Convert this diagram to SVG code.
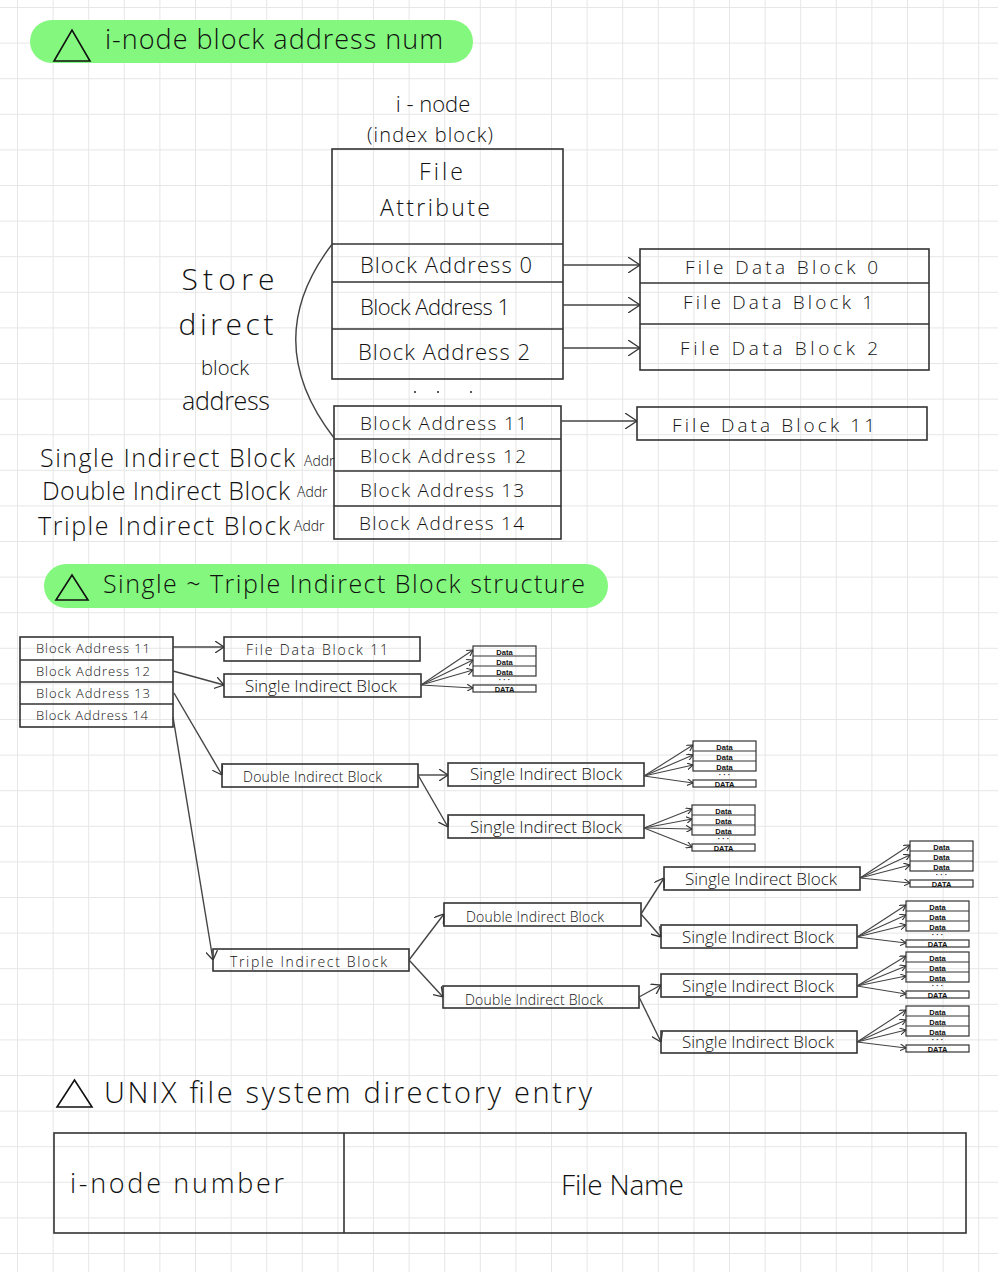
<svg xmlns="http://www.w3.org/2000/svg" width="998" height="1272" viewBox="0 0 998 1272">
<defs>
<pattern id="grid" x="17" y="7" width="35.6" height="35.6" patternUnits="userSpaceOnUse">
<path d="M0,0 H35.6 M0,0 V35.6" stroke="#e6e6e6" stroke-width="2" fill="none"/>
</pattern>
<marker id="chevL" markerWidth="12" markerHeight="16" refX="12" refY="8" orient="auto" markerUnits="userSpaceOnUse">
<path d="M0,0 L12,8 L0,16" fill="none" stroke="#333" stroke-width="1.3"/>
</marker>
<marker id="chevM" markerWidth="9" markerHeight="12" refX="9" refY="6" orient="auto" markerUnits="userSpaceOnUse">
<path d="M0,0 L9,6 L0,12" fill="none" stroke="#333" stroke-width="1.3"/>
</marker>
<marker id="chevS" markerWidth="6" markerHeight="7" refX="6" refY="3.5" orient="auto" markerUnits="userSpaceOnUse">
<path d="M0,0 L6,3.5 L0,7" fill="none" stroke="#333" stroke-width="1.1"/>
</marker>
<g id="datastack">
<rect x="0" y="0" width="63" height="30" class="mini"/>
<line x1="0" y1="10" x2="63" y2="10" class="mini"/>
<line x1="0" y1="20" x2="63" y2="20" class="mini"/>
<rect x="0" y="39" width="63" height="7" class="mini"/>
<text x="31.5" y="8.5" class="dt">Data</text>
<text x="31.5" y="18.5" class="dt">Data</text>
<text x="31.5" y="28.5" class="dt">Data</text>
<text x="31.5" y="36" class="dt">· · ·</text>
<text x="31.5" y="45.5" class="dt">DATA</text>
</g>
</defs>
<style>
.t{font-family:"Open Sans","Liberation Sans",sans-serif;font-weight:300;fill:#111}
.box{fill:none;stroke:#333;stroke-width:1.6}
.mini{fill:none;stroke:#333;stroke-width:1.2}
.dt{font-family:"Liberation Sans",sans-serif;font-size:7.5px;font-weight:bold;fill:#111;text-anchor:middle}
.c{fill:none;stroke:#444;stroke-width:1.4}
.cs{fill:none;stroke:#444;stroke-width:1.1}
.pill{fill:#84f87e}
.tri{fill:none;stroke:#111;stroke-width:1.6}
</style>
<rect x="0" y="0" width="998" height="1272" fill="#fff"/>
<rect x="0" y="0" width="998" height="1272" fill="url(#grid)"/>

<g id="header1">
<rect x="30" y="20" width="443" height="43" rx="21.5" class="pill"/>
<polygon points="54,61 90,61 72,30" class="tri"/>
<text x="105" y="49" class="t" font-size="27" textLength="338" lengthAdjust="spacing">i-node block address num</text>
</g>

<g id="inode-label">
<text x="433" y="112" class="t" font-size="22" text-anchor="middle">i - node</text>
<text x="430" y="142" class="t" font-size="20" text-anchor="middle" textLength="126" lengthAdjust="spacing">(index block)</text>
</g>

<g id="inode">
<rect x="332" y="149" width="231" height="230" class="box"/>
<line x1="332" y1="244" x2="563" y2="244" class="box"/>
<line x1="332" y1="282" x2="563" y2="282" class="box"/>
<line x1="332" y1="329" x2="563" y2="329" class="box"/>
<text x="441" y="180" class="t" font-size="23" text-anchor="middle" textLength="44" lengthAdjust="spacing">File</text>
<text x="435" y="216" class="t" font-size="23" text-anchor="middle" textLength="110" lengthAdjust="spacing">Attribute</text>
<text x="360" y="273" class="t" font-size="22" textLength="172" lengthAdjust="spacing">Block Address 0</text>
<text x="360" y="315" class="t" font-size="22" textLength="150" lengthAdjust="spacing">Block Address 1</text>
<text x="358" y="360" class="t" font-size="22" textLength="172" lengthAdjust="spacing">Block Address 2</text>
<circle cx="415" cy="392" r="1.1" fill="#333"/>
<circle cx="438" cy="392" r="1.1" fill="#333"/>
<circle cx="471" cy="392" r="1.1" fill="#333"/>
</g>

<g id="inode-indirect">
<rect x="334" y="406" width="227" height="133" class="box"/>
<line x1="334" y1="439" x2="561" y2="439" class="box"/>
<line x1="334" y1="471" x2="561" y2="471" class="box"/>
<line x1="334" y1="506" x2="561" y2="506" class="box"/>
<text x="360" y="430" class="t" font-size="19" textLength="167" lengthAdjust="spacing">Block Address 11</text>
<text x="360" y="463" class="t" font-size="19" textLength="166" lengthAdjust="spacing">Block Address 12</text>
<text x="360" y="497" class="t" font-size="19" textLength="164" lengthAdjust="spacing">Block Address 13</text>
<text x="359" y="530" class="t" font-size="19" textLength="165" lengthAdjust="spacing">Block Address 14</text>
</g>

<g id="file-data-blocks">
<rect x="640" y="249" width="289" height="121" class="box"/>
<line x1="640" y1="283" x2="929" y2="283" class="box"/>
<line x1="640" y1="324" x2="929" y2="324" class="box"/>
<text x="685" y="274" class="t" font-size="19" textLength="193" lengthAdjust="spacing">File Data Block 0</text>
<text x="683" y="309" class="t" font-size="19" textLength="190" lengthAdjust="spacing">File Data Block 1</text>
<text x="680" y="355" class="t" font-size="19" textLength="198" lengthAdjust="spacing">File Data Block 2</text>
</g>

<g id="file-data-block-11">
<rect x="637" y="407" width="290" height="33" class="box"/>
<text x="672" y="432" class="t" font-size="19" textLength="203" lengthAdjust="spacing">File Data Block 11</text>
</g>

<g id="left-labels">
<text x="228" y="290" class="t" font-size="30" text-anchor="middle" textLength="93" lengthAdjust="spacing">Store</text>
<text x="226" y="335" class="t" font-size="30" text-anchor="middle" textLength="95" lengthAdjust="spacing">direct</text>
<text x="225" y="375" class="t" font-size="21" text-anchor="middle" textLength="48" lengthAdjust="spacingAndGlyphs">block</text>
<text x="226" y="410" class="t" font-size="25" text-anchor="middle" textLength="88" lengthAdjust="spacing">address</text>
<text x="40" y="467" class="t" font-size="25" textLength="255" lengthAdjust="spacing">Single Indirect Block</text>
<text x="304" y="466" class="t" font-size="14">Addr</text>
<text x="42" y="500" class="t" font-size="25" textLength="248" lengthAdjust="spacing">Double Indirect Block</text>
<text x="297" y="497" class="t" font-size="14">Addr</text>
<text x="38" y="535" class="t" font-size="25" textLength="252" lengthAdjust="spacing">Triple Indirect Block</text>
<text x="294" y="531" class="t" font-size="14">Addr</text>
</g>

<g id="header2">
<rect x="44" y="564" width="564" height="44" rx="22" class="pill"/>
<polygon points="56,600 88,600 72,575" class="tri"/>
<text x="103" y="593" class="t" font-size="25" textLength="482" lengthAdjust="spacing">Single ~ Triple Indirect Block structure</text>
</g>

<g id="addr-table">
<rect x="20" y="637" width="153" height="90" class="box"/>
<line x1="20" y1="660" x2="173" y2="660" class="box"/>
<line x1="20" y1="682" x2="173" y2="682" class="box"/>
<line x1="20" y1="704" x2="173" y2="704" class="box"/>
<text x="36" y="653" class="t" font-size="13" textLength="114" lengthAdjust="spacing">Block Address 11</text>
<text x="36" y="676" class="t" font-size="13" textLength="114" lengthAdjust="spacing">Block Address 12</text>
<text x="36" y="698" class="t" font-size="13" textLength="114" lengthAdjust="spacing">Block Address 13</text>
<text x="36" y="720" class="t" font-size="13" textLength="112" lengthAdjust="spacing">Block Address 14</text>
</g>

<g id="fdb11-b">
<rect x="224" y="637" width="196" height="24" class="box"/>
<text x="246" y="655" class="t" font-size="14" textLength="142" lengthAdjust="spacing">File Data Block 11</text>
</g>
<g id="sib-a">
<rect x="224" y="674" width="197" height="23" class="box"/>
<text x="245" y="692" class="t" font-size="17" font-weight="400" textLength="152" lengthAdjust="spacing">Single Indirect Block</text>
</g>
<g id="dib-a">
<rect x="222" y="764" width="196" height="23" class="box"/>
<text x="243" y="782" class="t" font-size="14" textLength="139" lengthAdjust="spacing">Double Indirect Block</text>
</g>
<g id="sib-b">
<rect x="448" y="763" width="196" height="23" class="box"/>
<text x="470" y="780" class="t" font-size="17" font-weight="400" textLength="152" lengthAdjust="spacing">Single Indirect Block</text>
</g>
<g id="sib-c">
<rect x="448" y="815" width="196" height="23" class="box"/>
<text x="470" y="833" class="t" font-size="17" font-weight="400" textLength="152" lengthAdjust="spacing">Single Indirect Block</text>
</g>
<g id="tib">
<rect x="213" y="949" width="196" height="22" class="box"/>
<text x="230" y="967" class="t" font-size="14" textLength="157" lengthAdjust="spacing">Triple Indirect Block</text>
</g>
<g id="dib-b">
<rect x="444" y="903" width="197" height="23" class="box"/>
<text x="466" y="922" class="t" font-size="14" textLength="138" lengthAdjust="spacing">Double Indirect Block</text>
</g>
<g id="dib-c">
<rect x="443" y="986" width="196" height="22" class="box"/>
<text x="465" y="1005" class="t" font-size="14" textLength="138" lengthAdjust="spacing">Double Indirect Block</text>
</g>
<g id="sib-d">
<rect x="664" y="867" width="196" height="23" class="box"/>
<text x="685" y="885" class="t" font-size="17" font-weight="400" textLength="152" lengthAdjust="spacing">Single Indirect Block</text>
</g>
<g id="sib-e">
<rect x="661" y="925" width="196" height="23" class="box"/>
<text x="682" y="943" class="t" font-size="17" font-weight="400" textLength="152" lengthAdjust="spacing">Single Indirect Block</text>
</g>
<g id="sib-f">
<rect x="661" y="974" width="196" height="23" class="box"/>
<text x="682" y="992" class="t" font-size="17" font-weight="400" textLength="152" lengthAdjust="spacing">Single Indirect Block</text>
</g>
<g id="sib-g">
<rect x="661" y="1031" width="196" height="22" class="box"/>
<text x="682" y="1048" class="t" font-size="17" font-weight="400" textLength="152" lengthAdjust="spacing">Single Indirect Block</text>
</g>

<g id="data-1"><use href="#datastack" x="473" y="646"/></g>
<g id="data-2"><use href="#datastack" x="693" y="741"/></g>
<g id="data-3"><use href="#datastack" x="692" y="805"/></g>
<g id="data-4"><use href="#datastack" x="910" y="841"/></g>
<g id="data-5"><use href="#datastack" x="906" y="901"/></g>
<g id="data-6"><use href="#datastack" x="906" y="952"/></g>
<g id="data-7"><use href="#datastack" x="906" y="1006"/></g>

<g id="header3">
<polygon points="57,1107 92,1107 74.5,1080" class="tri"/>
<text x="104" y="1103" class="t" font-size="29" textLength="488" lengthAdjust="spacing">UNIX file system directory entry</text>
</g>
<g id="dir-entry">
<rect x="54" y="1133" width="912" height="100" class="box"/>
<line x1="344" y1="1133" x2="344" y2="1233" class="box"/>
<text x="70" y="1193" class="t" font-size="27" textLength="214" lengthAdjust="spacing">i-node number</text>
<text x="561" y="1195" class="t" font-size="28" textLength="123" lengthAdjust="spacing">File Name</text>
</g>

<g id="connectors">
<path d="M333,243 Q258,340 334,438" class="c"/>
<line x1="563" y1="265" x2="640" y2="265" class="c" marker-end="url(#chevL)"/>
<line x1="563" y1="305" x2="640" y2="305" class="c" marker-end="url(#chevL)"/>
<line x1="563" y1="348" x2="640" y2="348" class="c" marker-end="url(#chevL)"/>
<line x1="561" y1="421" x2="637" y2="421" class="c" marker-end="url(#chevL)"/>

<line x1="173" y1="647" x2="224" y2="647" class="c" marker-end="url(#chevM)"/>
<line x1="173" y1="671" x2="224" y2="685" class="c" marker-end="url(#chevM)"/>
<line x1="174" y1="693" x2="222" y2="775" class="c" marker-end="url(#chevM)"/>
<line x1="173" y1="717" x2="213" y2="960" class="c" marker-end="url(#chevM)"/>
<line x1="418" y1="775" x2="448" y2="775" class="c" marker-end="url(#chevM)"/>
<line x1="418" y1="775" x2="448" y2="827" class="c" marker-end="url(#chevM)"/>
<line x1="409" y1="960" x2="444" y2="914" class="c" marker-end="url(#chevM)"/>
<line x1="409" y1="960" x2="443" y2="997" class="c" marker-end="url(#chevM)"/>
<line x1="641" y1="914" x2="664" y2="878" class="c" marker-end="url(#chevM)"/>
<line x1="641" y1="914" x2="661" y2="937" class="c" marker-end="url(#chevM)"/>
<line x1="639" y1="997" x2="661" y2="985" class="c" marker-end="url(#chevM)"/>
<line x1="639" y1="997" x2="661" y2="1042" class="c" marker-end="url(#chevM)"/>

<g marker-end="url(#chevS)">
<line x1="421" y1="685" x2="473" y2="650" class="cs"/>
<line x1="421" y1="685" x2="473" y2="660" class="cs"/>
<line x1="421" y1="685" x2="473" y2="670" class="cs"/>
<line x1="421" y1="685" x2="473" y2="688" class="cs"/>
<line x1="644" y1="776" x2="693" y2="745" class="cs"/>
<line x1="644" y1="776" x2="693" y2="755" class="cs"/>
<line x1="644" y1="776" x2="693" y2="765" class="cs"/>
<line x1="644" y1="776" x2="693" y2="783" class="cs"/>
<line x1="644" y1="828" x2="692" y2="809" class="cs"/>
<line x1="644" y1="828" x2="692" y2="819" class="cs"/>
<line x1="644" y1="828" x2="692" y2="829" class="cs"/>
<line x1="644" y1="828" x2="692" y2="847" class="cs"/>
<line x1="860" y1="878" x2="910" y2="845" class="cs"/>
<line x1="860" y1="878" x2="910" y2="855" class="cs"/>
<line x1="860" y1="878" x2="910" y2="865" class="cs"/>
<line x1="860" y1="878" x2="910" y2="883" class="cs"/>
<line x1="857" y1="937" x2="906" y2="905" class="cs"/>
<line x1="857" y1="937" x2="906" y2="915" class="cs"/>
<line x1="857" y1="937" x2="906" y2="925" class="cs"/>
<line x1="857" y1="937" x2="906" y2="943" class="cs"/>
<line x1="857" y1="986" x2="906" y2="956" class="cs"/>
<line x1="857" y1="986" x2="906" y2="966" class="cs"/>
<line x1="857" y1="986" x2="906" y2="976" class="cs"/>
<line x1="857" y1="986" x2="906" y2="994" class="cs"/>
<line x1="857" y1="1042" x2="906" y2="1010" class="cs"/>
<line x1="857" y1="1042" x2="906" y2="1020" class="cs"/>
<line x1="857" y1="1042" x2="906" y2="1030" class="cs"/>
<line x1="857" y1="1042" x2="906" y2="1048" class="cs"/>
</g>
</g>
</svg>
